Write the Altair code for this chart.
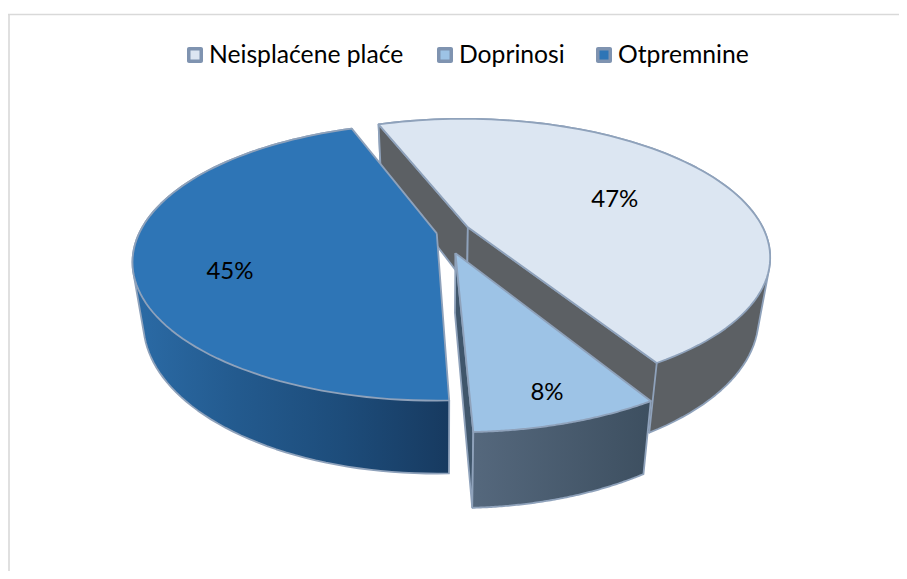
import numpy as np
import pandas as pd
import altair as alt

# ---- chart data ----
names = ["Neisplaćene plaće", "Doprinosi", "Otpremnine"]
shares = [47, 8, 45]
labels = ["47%", "8%", "45%"]

# ---- view of the tilted, exploded pie (fitted to the picture) ----
CX, CY, RX, RY, PERSP, START = 441.97, 232.87, 297.4, 132.8, 0.2048, -0.351
EXPLODE = [0.0973, 0.1541, 0.0178]
DEPTH, BASE_SHRINK = 58.0, 0.965
LABEL_R = [0.573, 0.845, 0.708]
LABEL_TURN = [2.0, 0.0, -11.0]

TOP = ["#dce6f2", "#9dc3e6", "#2e75b6"]
EDGE = "#8fa2bb"
WALL_GREY = "#5c6064"
GRAD_DOP = ["#55687d", "#3d4f60"]
GRAD_OTP = ["#2b6ba6", "#235a8e", "#1d4c7a", "#173a60"]

W, H = 891, 563
edges = np.cumsum([0] + shares) / 100 * 2 * np.pi + START


def project(u, v, base=False):
    u, v = np.asarray(u, float), np.asarray(v, float)
    w = 1 - PERSP * v
    if base:
        return CX + BASE_SHRINK * RX * u / w, CY + (RY * v + DEPTH) / w
    return CX + RX * u / w, CY + RY * v / w


def apex(i):
    m = (edges[i] + edges[i + 1]) / 2
    return EXPLODE[i] * np.sin(m), -EXPLODE[i] * np.cos(m)


def arc(i):
    au, av = apex(i)
    t = np.linspace(edges[i], edges[i + 1], 90)
    return au + np.sin(t), av - np.cos(t)


def frame(xs, ys):
    xs = list(xs) + [xs[0]]
    ys = list(ys) + [ys[0]]
    return pd.DataFrame({"x": xs, "y": ys, "n": range(len(xs))})


def hull(px, py):
    pts = sorted(set(zip(px.tolist(), py.tolist())))

    def half(seq):
        out = []
        for p in seq:
            while len(out) > 1 and (
                (out[-1][0] - out[-2][0]) * (p[1] - out[-2][1])
                - (out[-1][1] - out[-2][1]) * (p[0] - out[-2][0])
            ) <= 0:
                out.pop()
            out.append(p)
        return out[:-1]

    ring = half(pts) + half(pts[::-1])
    return [p[0] for p in ring], [p[1] for p in ring]


def top_poly(i):
    au, av = apex(i)
    u, v = arc(i)
    x, y = project(np.r_[au, u], np.r_[av, v])
    return frame(x, y)


def wall_poly(i):
    # silhouette of the rim: everything between the top arc and the base arc
    u, v = arc(i)
    x1, y1 = project(u, v)
    x2, y2 = project(u, v, base=True)
    return frame(*hull(np.r_[x1, x2], np.r_[y1, y2]))


def side_poly(i, k):
    au, av = apex(i)
    a = edges[k]
    u = np.array([au, au + np.sin(a)])
    v = np.array([av, av - np.cos(a)])
    x1, y1 = project(u, v)
    x2, y2 = project(u[::-1], v[::-1], base=True)
    return frame(np.r_[x1, x2], np.r_[y1, y2])


xs = alt.Scale(domain=[8, 8 + W], nice=False, zero=False)
ys = alt.Scale(domain=[8 + H, 8], nice=False, zero=False)
X = alt.X("x:Q", scale=xs, axis=None)
Y = alt.Y("y:Q", scale=ys, axis=None)


def shape(df, fill, sw=1.8):
    return alt.Chart(df).mark_line(
        fill=fill, stroke=EDGE, strokeWidth=sw, strokeJoin="round", interpolate="linear"
    ).encode(x=X, y=Y, order="n:Q")


def grad(cols):
    return alt.Gradient(
        gradient="linear", x1=0, x2=1, y1=0, y2=0,
        stops=[alt.GradientStop(color=c, offset=i / (len(cols) - 1)) for i, c in enumerate(cols)],
    )


layers = []
# page frame (top and left hairlines)
layers.append(alt.Chart(pd.DataFrame({"x": [8], "x2": [8 + W], "y": [14.5]})).mark_rule(
    color="#d9d9d9", strokeWidth=1.6).encode(x=X, x2="x2:Q", y=Y))
layers.append(alt.Chart(pd.DataFrame({"x": [9], "y": [14.5], "y2": [8 + H]})).mark_rule(
    color="#d9d9d9", strokeWidth=1.6).encode(x=X, y=Y, y2="y2:Q"))

# Neisplaćene plaće
layers += [shape(wall_poly(0), WALL_GREY), shape(side_poly(0, 0), WALL_GREY),
           shape(side_poly(0, 1), WALL_GREY), shape(top_poly(0), TOP[0])]
# Otpremnine
layers += [shape(wall_poly(2), grad(GRAD_OTP)), shape(top_poly(2), TOP[2])]
# Doprinosi
layers += [shape(side_poly(1, 2), "#40566b"), shape(wall_poly(1), grad(GRAD_DOP)), shape(top_poly(1), TOP[1])]

# percentage labels
lab = []
for i, t in enumerate(labels):
    au, av = apex(i)
    m = (edges[i] + edges[i + 1]) / 2 + np.radians(LABEL_TURN[i])
    x, y = project(au + LABEL_R[i] * np.sin(m), av - LABEL_R[i] * np.cos(m))
    lab.append({"x": float(x), "y": float(y), "t": t})
layers.append(alt.Chart(pd.DataFrame(lab)).mark_text(
    font="Lato", fontSize=24, color="#000000", align="center", baseline="middle", dy=1.5
).encode(x=X, y=Y, text="t:N"))

# legend
LEG_X = [187, 437, 596]
LEG_Y = 55
SW = 16
INNER = 9
leg = pd.DataFrame({"x": LEG_X, "name": names, "col": TOP})
leg["x1"] = leg.x
leg["x2"] = leg.x + SW
leg["y1"] = LEG_Y - SW / 2
leg["y2"] = LEG_Y + SW / 2
leg["ix1"] = leg.x + (SW - INNER) / 2
leg["ix2"] = leg.x + (SW + INNER) / 2
leg["iy1"] = LEG_Y - INNER / 2
leg["iy2"] = LEG_Y + INNER / 2
leg["tx"] = leg.x + SW + 6
leg["ty"] = LEG_Y
layers.append(alt.Chart(leg).mark_rect(color="#7f93b0", cornerRadius=2).encode(
    x=alt.X("x1:Q", scale=xs, axis=None), x2="x2:Q",
    y=alt.Y("y1:Q", scale=ys, axis=None), y2="y2:Q"))
layers.append(alt.Chart(leg).mark_rect().encode(
    x=alt.X("ix1:Q", scale=xs, axis=None), x2="ix2:Q",
    y=alt.Y("iy1:Q", scale=ys, axis=None), y2="iy2:Q",
    color=alt.Color("col:N", scale=None)))
layers.append(alt.Chart(leg).mark_text(
    font="Lato", fontSize=24.7, color="#000000", align="left", baseline="middle", dy=1
).encode(x=alt.X("tx:Q", scale=xs, axis=None), y=alt.Y("ty:Q", scale=ys, axis=None), text="name:N"))

chart = alt.layer(*layers).properties(
    width=W, height=H, padding=0, background="white",
    autosize=alt.AutoSizeParams(type="none"),
).configure_view(stroke=None)

chart.save("out.html", embed_options={"renderer": "svg", "actions": False})
